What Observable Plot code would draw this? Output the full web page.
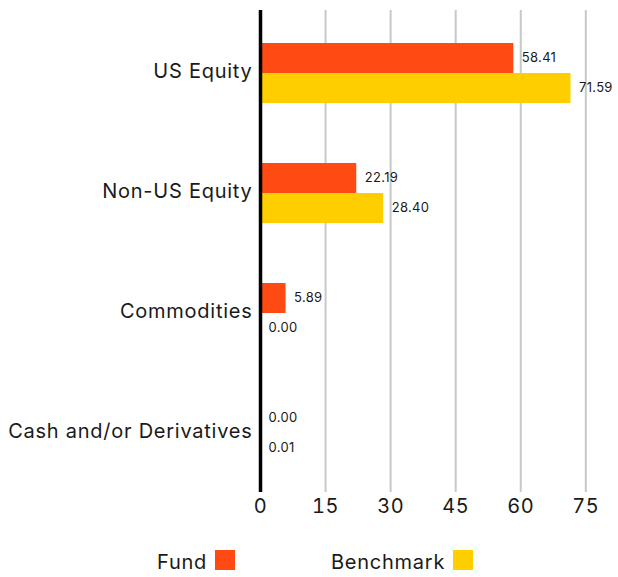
<!DOCTYPE html>
<html>
<head>
<meta charset="utf-8">
<script src="https://cdn.jsdelivr.net/npm/d3@7"></script>
<script src="https://cdn.jsdelivr.net/npm/@observablehq/plot@0.6"></script>
<style>
  body { margin: 0; background: #fff; font-family: "Inter", sans-serif; }
  #chart { width: 618px; }
  g[aria-label="y-axis tick label"] text { letter-spacing: 0.75px; }
  g[aria-label="x-axis tick label"] text { letter-spacing: 0.5px; }
  g[aria-label="text"] text { letter-spacing: 0.3px; }
  .legend { position: relative; height: 47px; width: 618px; font-size: 20px; color: #1a1a1a; letter-spacing: 0.75px; }
  .legend .item { position: absolute; top: 20px; display: flex; align-items: flex-end; height: 20px; }
  .legend .sw { width: 20px; height: 20px; margin-left: 8px; display: inline-block; }
  .legend .lbl { line-height: 20px; position: relative; top: 2px; }
</style>
</head>
<body>
<div id="chart"></div>
<script>
const categories = ["US Equity", "Non-US Equity", "Commodities", "Cash and/or Derivatives"];
const series = ["Fund", "Benchmark"];
const fundValues = [58.41, 22.19, 5.89, 0.00];
const benchmarkValues = [71.59, 28.40, 0.00, 0.01];
const xTicks = [0, 15, 30, 45, 60, 75];
const colors = ["#FF4A14", "#FFCE00"];

const fundRows = categories.map((c, i) => ({category: c, series: "Fund", value: fundValues[i]}));
const benchRows = categories.map((c, i) => ({category: c, series: "Benchmark", value: benchmarkValues[i]}));

const font = "Inter, sans-serif";

const plot = Plot.plot({
  width: 618,
  height: 530,
  marginLeft: 260,
  marginRight: 11,
  marginTop: 10,
  marginBottom: 38,
  style: {fontFamily: font, color: "#1a1a1a", background: "#fff"},
  x: {domain: [0, 80]},
  y: {domain: categories, padding: 0},
  color: {domain: series, range: colors},
  marks: [
    Plot.ruleX(xTicks.filter(d => d > 0), {stroke: "#c8c8c8", strokeWidth: 2}),
    Plot.barX(fundRows, {y: "category", x: "value", fill: "series", insetTop: 32, insetBottom: 58}),
    Plot.barX(benchRows, {y: "category", x: "value", fill: "series", insetTop: 62, insetBottom: 28}),
    Plot.text(fundRows, {y: "category", x: "value", text: d => d.value.toFixed(2), dy: -14, dx: 8, textAnchor: "start", fontSize: 13, fill: "#1a1a1a"}),
    Plot.text(benchRows, {y: "category", x: "value", text: d => d.value.toFixed(2), dy: 16, dx: 8, textAnchor: "start", fontSize: 13, fill: "#1a1a1a"}),
    Plot.ruleX([0], {stroke: "#000", strokeWidth: 3.5}),
    Plot.axisX({ticks: xTicks, tickSize: 0, tickPadding: 6, fontSize: 20, label: null}),
    Plot.axisY({tickSize: 0, tickPadding: 8, fontSize: 20, label: null})
  ]
});
document.getElementById("chart").appendChild(plot);

const legend = document.createElement("div");
legend.className = "legend";
const lefts = [157, 331];
series.forEach((s, i) => {
  const item = document.createElement("div");
  item.className = "item";
  item.style.left = lefts[i] + "px";
  const lbl = document.createElement("span");
  lbl.className = "lbl";
  lbl.textContent = s;
  const sw = document.createElement("span");
  sw.className = "sw";
  sw.style.background = colors[i];
  item.appendChild(lbl);
  item.appendChild(sw);
  legend.appendChild(item);
});
document.body.appendChild(legend);
</script>
</body>
</html>
